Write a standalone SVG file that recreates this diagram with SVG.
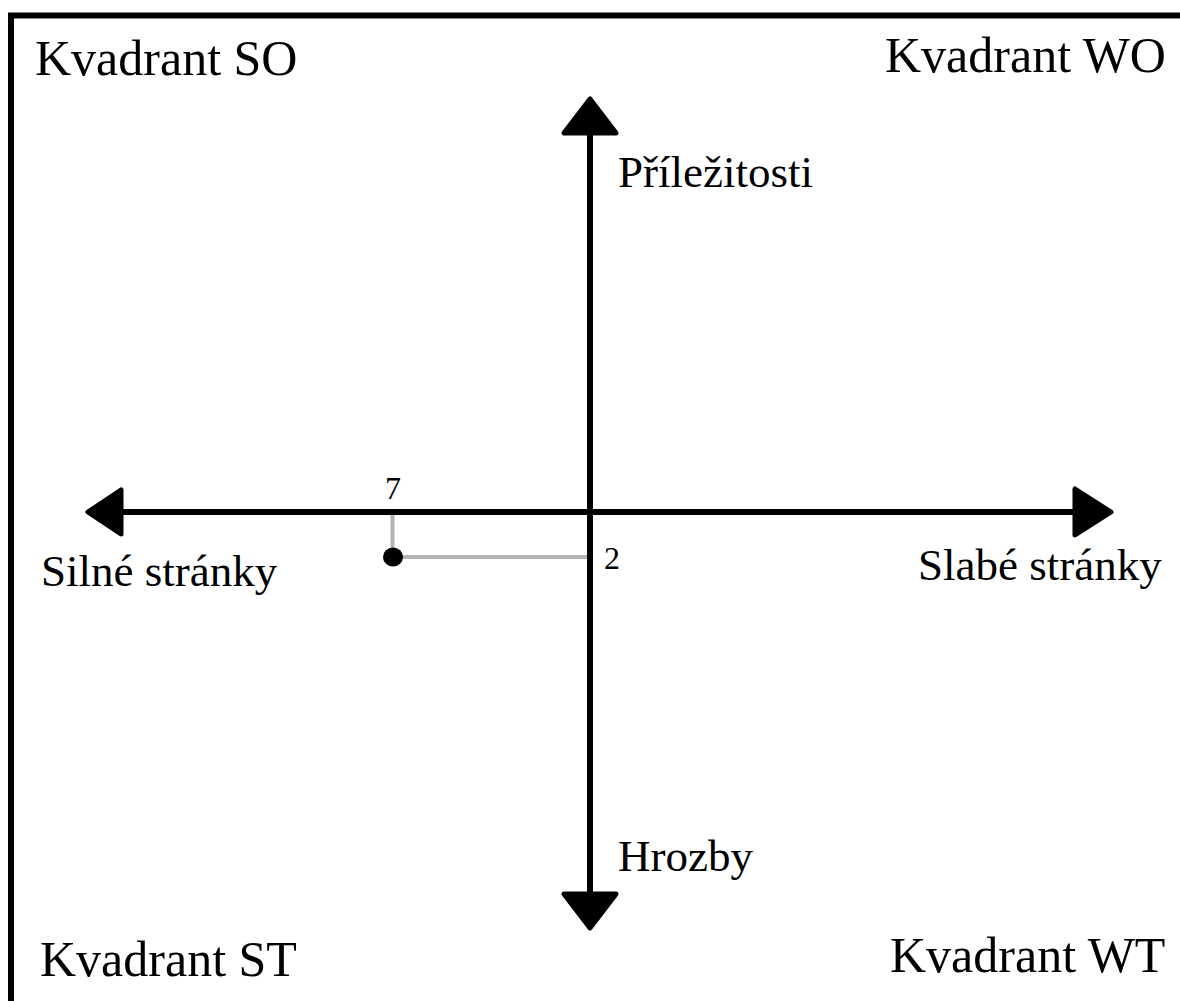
<svg xmlns="http://www.w3.org/2000/svg" width="1180" height="1001" viewBox="0 0 1180 1001">
<style>
.t{font-family:"Liberation Serif","Times New Roman",serif;fill:#000}
.q{font-size:50px}
.a{font-size:45px}
.n{font-size:32px}
.ax{stroke:#000;stroke-width:6;fill:none}
.hd{fill:#000;stroke:#000;stroke-width:5;stroke-linejoin:round}
.g{stroke:#b3b3b3;stroke-width:4;fill:none}
</style>
<rect width="1180" height="1001" fill="#fff"/>
<g id="frame">
<path d="M11,1001 V15.5 H1180" fill="none" stroke="#000" stroke-width="6"/>
</g>
<g id="connectors">
<line class="ax" x1="590" y1="125" x2="590" y2="900"/>
<line class="ax" x1="115" y1="512" x2="1080" y2="512"/>
<polygon class="hd" points="590,99 564,133 616,133"/>
<polygon class="hd" points="590,928 564,894 616,894"/>
<polygon class="hd" points="88,512 121,490 121,534"/>
<polygon class="hd" points="1111,512 1075,489 1075,535"/>
<polyline class="g" points="392.5,515 392.5,557 587,557"/>
</g>
<g id="point">
<ellipse cx="393" cy="557" rx="10" ry="9.5" fill="#000"/>
</g>
<g id="labels">
<text class="t q" x="35" y="75">Kvadrant SO</text>
<text class="t q" x="885" y="72">Kvadrant WO</text>
<text class="t q" x="40" y="976">Kvadrant ST</text>
<text class="t q" x="890" y="972">Kvadrant WT</text>
<text class="t a" x="618" y="187">Příležitosti</text>
<text class="t a" x="618" y="871">Hrozby</text>
<text class="t a" x="41" y="586">Silné stránky</text>
<text class="t a" x="918" y="580">Slabé stránky</text>
<text class="t n" x="385" y="499">7</text>
<text class="t n" x="604" y="569">2</text>
</g>
</svg>
